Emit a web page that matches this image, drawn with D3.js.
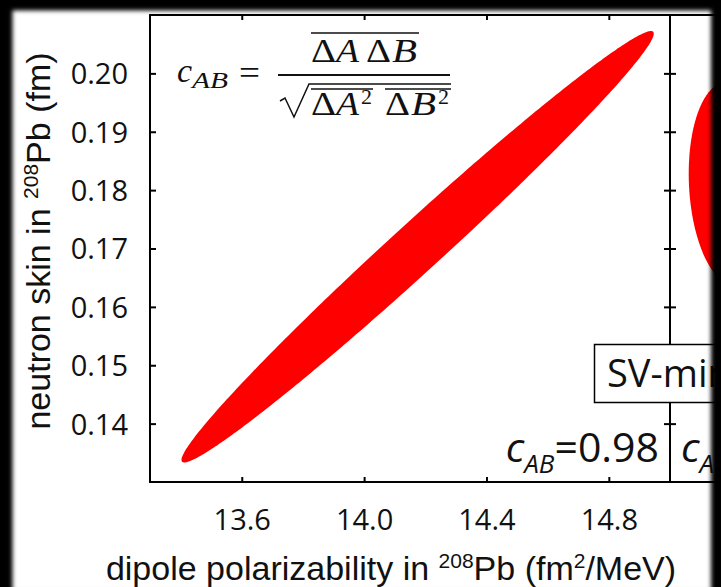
<!DOCTYPE html>
<html>
<head>
<meta charset="utf-8">
<script src="https://cdn.jsdelivr.net/npm/d3@7/dist/d3.min.js"></script>
<style>
html,body{margin:0;padding:0;background:#000;}
svg{display:block;}
</style>
</head>
<body>
<svg id="chart" width="721" height="587"></svg>
<script>
// ---------------- data ----------------
const xTicks = [13.6, 14.0, 14.4, 14.8];
const yTicks = [0.14, 0.15, 0.16, 0.17, 0.18, 0.19, 0.20];
const xTickLabels = ["13.6", "14.0", "14.4", "14.8"];
const yTickLabels = ["0.14", "0.15", "0.16", "0.17", "0.18", "0.19", "0.20"];
const xDomain = [13.3, 15.0];
const yDomain = [0.13, 0.21];
// panel 1 covariance ellipse: dipole polarizability (A) vs neutron skin (B)
const ellipseCenter = [14.175, 0.1703];
const ellipseHalfExtent = [0.772, 0.03695];
const ellipseShapeCorr = 0.988;   // shape of the drawn ellipse
// panel 2 (cut off at the right edge)
const x2Domain = [0, 1];
const ellipse2Center = [0.115, 0.1811];
const ellipse2HalfExtent = [0.079, 0.0173];
const ellipse2ShapeCorr = -0.1;
const corrLabel = "=0.98";
const boxLabel = "SV-min";

// ---------------- layout ----------------
const W = 721, H = 587;
const L = 150, R = 670, T = 15, B = 482;
const svg = d3.select("#chart");

const x = d3.scaleLinear().domain(xDomain).range([L, R]);
const y = d3.scaleLinear().domain(yDomain).range([B, T]);
const x2 = d3.scaleLinear().domain(x2Domain).range([R, R + 520]);

svg.append("rect").attr("width", W).attr("height", H).attr("fill", "#fff");

const defs = svg.append("defs");
defs.append("clipPath").attr("id", "clip1").append("rect")
  .attr("x", L).attr("y", T).attr("width", R - L).attr("height", B - T);
defs.append("clipPath").attr("id", "clip2").append("rect")
  .attr("x", R).attr("y", T).attr("width", 200).attr("height", B - T);
const blur = defs.append("filter").attr("id", "blur")
  .attr("x", "-10%").attr("y", "-10%").attr("width", "120%").attr("height", "120%");
blur.append("feGaussianBlur").attr("stdDeviation", 2);

// ellipse outline from center, half extents and correlation
function ellipsePoints(c, k, r) {
  const s = Math.sqrt(1 - r * r);
  return d3.range(0, 360, 1).map(deg => {
    const t = deg * Math.PI / 180;
    return [c[0] + k[0] * Math.cos(t), c[1] + k[1] * (r * Math.cos(t) + s * Math.sin(t))];
  });
}

const line1 = d3.line().x(d => x(d[0])).y(d => y(d[1])).curve(d3.curveLinearClosed);
const line2 = d3.line().x(d => x2(d[0])).y(d => y(d[1])).curve(d3.curveLinearClosed);

svg.append("path").attr("clip-path", "url(#clip1)")
  .attr("d", line1(ellipsePoints(ellipseCenter, ellipseHalfExtent, ellipseShapeCorr)))
  .attr("fill", "#ff0000");
svg.append("path").attr("clip-path", "url(#clip2)")
  .attr("d", line2(ellipsePoints(ellipse2Center, ellipse2HalfExtent, ellipse2ShapeCorr)))
  .attr("fill", "#ff0000");

// frame lines
const frame = svg.append("g").attr("stroke", "#000").attr("stroke-width", 2).attr("fill", "none");
frame.append("line").attr("x1", L).attr("x2", L).attr("y1", T).attr("y2", B + 1);
frame.append("line").attr("x1", R).attr("x2", R).attr("y1", T).attr("y2", B + 1);
frame.append("line").attr("x1", L - 1).attr("x2", W + 10).attr("y1", T).attr("y2", T);
frame.append("line").attr("x1", L - 1).attr("x2", W + 10).attr("y1", B).attr("y2", B);

const tickFont = "'Open Sans', 'Noto Sans', sans-serif";

// left axis (inward ticks)
const gL = svg.append("g").attr("transform", `translate(${L},0)`)
  .call(d3.axisLeft(y).tickValues(yTicks).tickSize(-6).tickSizeOuter(0).tickPadding(22)
    .tickFormat((d, i) => yTickLabels[i]));
gL.select(".domain").remove();
gL.selectAll("line").attr("stroke", "#000").attr("stroke-width", 2);
gL.selectAll("text").attr("font-family", tickFont).attr("font-size", 29).attr("fill", "#111")
  .attr("dy", "0.36em");

// right line of panel 1 / left axis of panel 2: ticks both sides
[6, -6].forEach(sz => {
  const g = svg.append("g").attr("transform", `translate(${R},0)`)
    .call(d3.axisRight(y).tickValues(yTicks).tickSize(sz).tickSizeOuter(0).tickFormat(""));
  g.select(".domain").remove();
  g.selectAll("line").attr("stroke", "#000").attr("stroke-width", 2);
});

// bottom axis (inward ticks)
const gB = svg.append("g").attr("transform", `translate(0,${B})`)
  .call(d3.axisBottom(x).tickValues(xTicks).tickSize(-5).tickSizeOuter(0).tickPadding(0)
    .tickFormat((d, i) => xTickLabels[i]));
gB.select(".domain").remove();
gB.selectAll("line").attr("stroke", "#000").attr("stroke-width", 2);
gB.selectAll("text").attr("font-family", tickFont).attr("font-size", 29).attr("fill", "#111")
  .attr("y", 48).attr("dy", 0);

// top axis (inward ticks)
const gT = svg.append("g").attr("transform", `translate(0,${T})`)
  .call(d3.axisTop(x).tickValues(xTicks).tickSize(-5).tickSizeOuter(0).tickFormat(""));
gT.select(".domain").remove();
gT.selectAll("line").attr("stroke", "#000").attr("stroke-width", 2);

// axis titles
const titleFont = "'Liberation Sans', Arial, sans-serif";
const yt = svg.append("text").attr("font-family", titleFont).attr("font-size", 34).attr("fill", "#111")
  .attr("text-anchor", "middle").attr("transform", "translate(50,241) rotate(-90)");
yt.append("tspan").text("neutron skin in ");
yt.append("tspan").attr("font-size", 21).attr("dy", -12).text("208");
yt.append("tspan").attr("dy", 12).text("Pb (fm)");

const xt = svg.append("text").attr("font-family", titleFont).attr("font-size", 34).attr("fill", "#111")
  .attr("text-anchor", "middle").attr("x", 391).attr("y", 580);
xt.append("tspan").text("dipole polarizability in ");
xt.append("tspan").attr("font-size", 21).attr("dy", -12).text("208");
xt.append("tspan").attr("dy", 12).text("Pb (fm");
xt.append("tspan").attr("font-size", 21).attr("dy", -12).text("2");
xt.append("tspan").attr("dy", 12).text("/MeV)");

// correlation labels
const cl = svg.append("text").attr("font-family", tickFont).attr("fill", "#111")
  .attr("text-anchor", "end").attr("x", 659).attr("y", 462);
cl.append("tspan").attr("font-size", 41).attr("font-style", "italic").text("c");
cl.append("tspan").attr("font-size", 26).attr("font-style", "italic").attr("dy", 11).text("AB");
cl.append("tspan").attr("font-size", 41).attr("dy", -11).text(corrLabel);

const cl2 = svg.append("text").attr("font-family", tickFont).attr("fill", "#111")
  .attr("x", 681).attr("y", 462);
cl2.append("tspan").attr("font-size", 41).attr("font-style", "italic").text("c");
cl2.append("tspan").attr("font-size", 26).attr("font-style", "italic").attr("dy", 11).text("AB");

// SV-min box
svg.append("rect").attr("x", 594.5).attr("y", 344.5).attr("width", 200).attr("height", 58)
  .attr("fill", "#fff").attr("stroke", "#000").attr("stroke-width", 1.5);
svg.append("text").attr("font-family", tickFont).attr("font-size", 38).attr("fill", "#111")
  .attr("x", 607).attr("y", 387).text(boxLabel);

// formula  c_AB = overline(ΔA ΔB) / sqrt( overline(ΔA^2) overline(ΔB^2) )
const mf = "'Liberation Serif', 'DejaVu Serif', serif";
const fm = svg.append("g").attr("font-family", mf).attr("fill", "#111");
function glyph(t, gx, gy, size, italic, len) {
  const e = fm.append("text").attr("x", gx).attr("y", gy).attr("font-size", size)
    .attr("font-style", italic ? "italic" : "normal").text(t);
  if (len) e.attr("textLength", len).attr("lengthAdjust", "spacingAndGlyphs");
}
glyph("c", 177, 82, 34, true);
glyph("AB", 192, 88, 24, true, 36);
glyph("=", 239, 84, 34, false, 21);
const fl = fm.append("g").attr("stroke", "#111").attr("fill", "none");
fl.append("line").attr("x1", 278).attr("x2", 450).attr("y1", 75).attr("y2", 75).attr("stroke-width", 1.8);
fl.append("line").attr("x1", 311).attr("x2", 419).attr("y1", 33).attr("y2", 33).attr("stroke-width", 1.5);
glyph("\u0394", 311, 62, 33, false, 25);
glyph("A", 336, 62, 33, true, 23);
glyph("\u0394", 366, 62, 33, false, 25);
glyph("B", 392, 62, 33, true, 25);
// radical
fl.append("path").attr("stroke-width", 1.5)
  .attr("d", "M280,101 L285,98 L294,117 L309,84 L451,84");
fl.append("line").attr("x1", 311).attr("x2", 373).attr("y1", 89).attr("y2", 89).attr("stroke-width", 1.5);
fl.append("line").attr("x1", 385).attr("x2", 451).attr("y1", 89).attr("y2", 89).attr("stroke-width", 1.5);
glyph("\u0394", 311, 115, 33, false, 25);
glyph("A", 336, 115, 33, true, 23);
glyph("2", 361, 104, 22, false);
glyph("\u0394", 385, 115, 33, false, 25);
glyph("B", 411, 115, 33, true, 25);
glyph("2", 438, 104, 22, false);

// dark vignette frame
svg.append("path").attr("fill", "#000").attr("fill-rule", "evenodd").attr("filter", "url(#blur)")
  .attr("d", `M-30,-30 H${W + 30} V${H + 30} H-30 Z M12.5,10.5 V591 H711 V10.5 Z`);
</script>
</body>
</html>
